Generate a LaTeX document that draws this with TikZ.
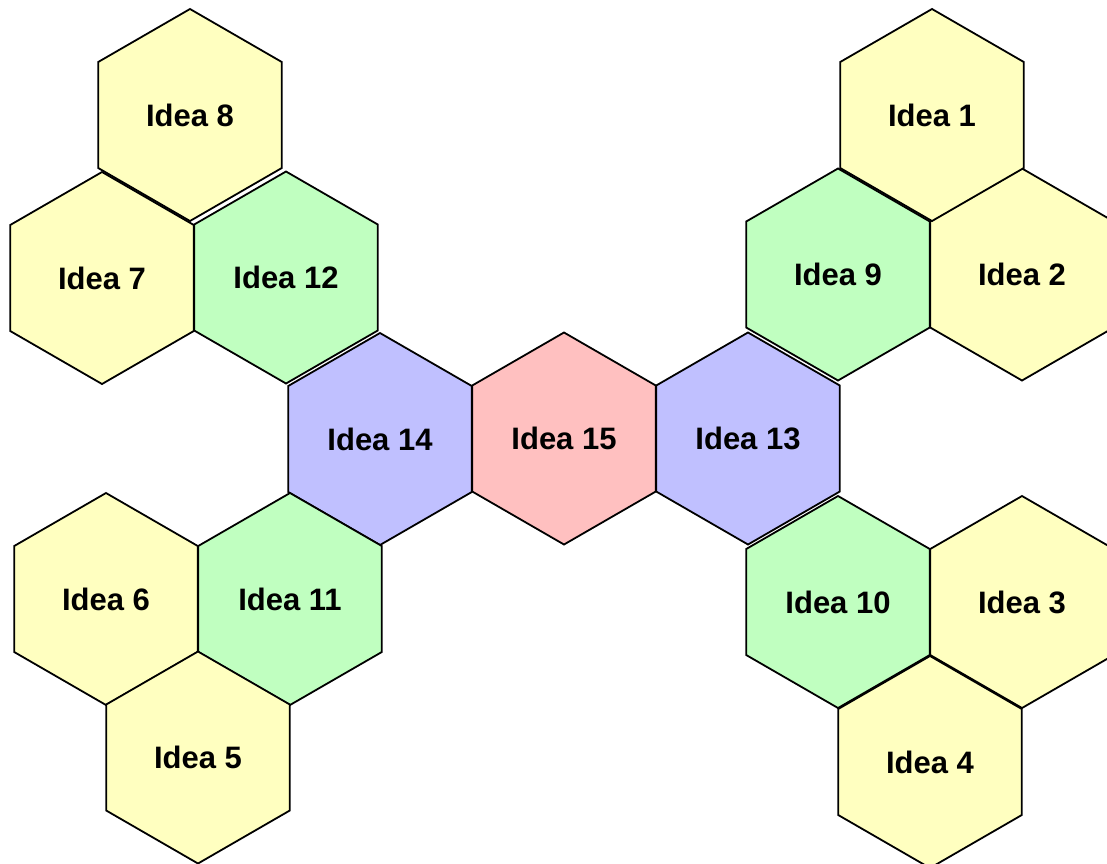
\documentclass[tikz,border=0pt]{standalone}
\usepackage{fontspec}
\setmainfont{Liberation Sans}
\usetikzlibrary{shapes.geometric}
\definecolor{hexyellow}{RGB}{255,255,192}
\definecolor{hexgreen}{RGB}{192,255,192}
\definecolor{hexblue}{RGB}{192,192,255}
\definecolor{hexpink}{RGB}{255,192,192}
\tikzset{
  hexcell/.style={regular polygon, regular polygon sides=6, shape border rotate=30,
    minimum size=212pt, inner sep=0pt, outer sep=0pt, draw=black, line width=1.8pt,
    line join=miter, font=\fontsize{31}{37}\selectfont\bfseries},
  idea/.style={hexcell, fill=hexyellow},
  mid/.style={hexcell, fill=hexgreen},
  inner/.style={hexcell, fill=hexblue},
  core/.style={hexcell, fill=hexpink}
}
\begin{document}
\begin{tikzpicture}[x=1pt,y=-1pt]
\clip (0,0) rectangle (1107,863);
\fill[white] (0,0) rectangle (1107,863);
\node[core]  (i15) at (564,438.5) {Idea 15};
\node[inner] (i14) at (380,439) {Idea 14};
\node[inner] (i13) at (748,438.5) {Idea 13};
\node[mid]   (i12) at (286,277.5) {Idea 12};
\node[mid]   (i11) at (290,599) {Idea 11};
\node[mid]   (i9)  at (838,274.5) {Idea 9};
\node[mid]   (i10) at (838,602) {Idea 10};
\node[idea]  (i7)  at (102,278) {Idea 7};
\node[idea]  (i8)  at (190,115) {Idea 8};
\node[idea]  (i6)  at (106,599) {Idea 6};
\node[idea]  (i5)  at (198,757.5) {Idea 5};
\node[idea]  (i2)  at (1022,274.5) {Idea 2};
\node[idea]  (i1)  at (932,115) {Idea 1};
\node[idea]  (i3)  at (1022,602) {Idea 3};
\node[idea]  (i4)  at (930,762) {Idea 4};
\end{tikzpicture}
\end{document}
